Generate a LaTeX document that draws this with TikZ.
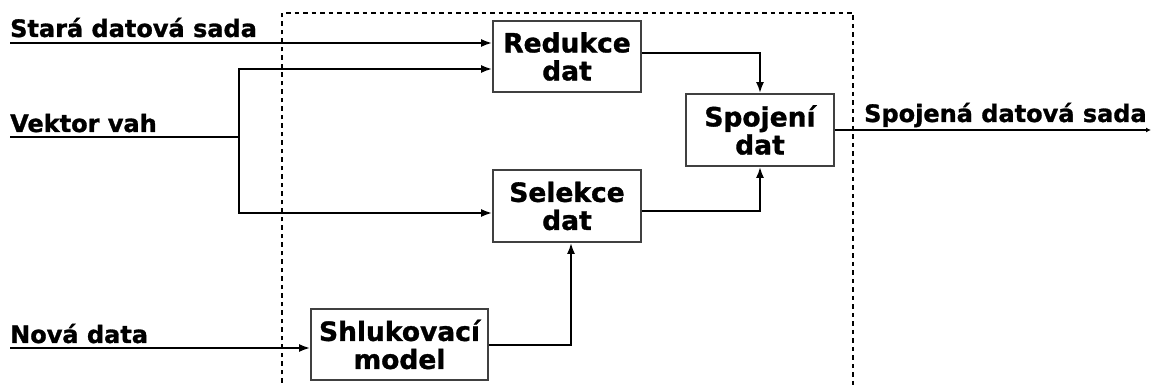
\documentclass[tikz,border=0pt]{standalone}
\usepackage{fontspec}
\setmainfont{DejaVu Sans}[BoldFeatures={FakeBold=1.2}]
\usetikzlibrary{arrows.meta}
\tikzset{
  blk/.style={draw=black!75, line width=1.8pt, align=center, inner sep=0pt,
    font=\fontsize{26.5}{28}\selectfont\bfseries},
  lbl/.style={anchor=base west, inner sep=0pt,
    font=\fontsize{24}{26}\selectfont\bfseries},
  wire/.style={line width=2pt},
  flow/.style={wire, -{Latex[length=11pt,width=8pt]}},
  frame/.style={line width=2.6pt, dash pattern=on 4.5pt off 4pt}
}
\begin{document}
\begin{tikzpicture}[x=1pt,y=-1pt]
\useasboundingbox (0,0) rectangle (1152,387);
% dashed system boundary, open at the bottom
\draw[frame] (282,400) -- (282,13) -- (853,13) -- (853,400);

% processing blocks
\node[blk, minimum width=148pt, minimum height=71pt] (red) at (567,56.5) {Redukce\\dat};
\node[blk, minimum width=148pt, minimum height=72pt] (spo) at (760,130) {Spojení\\dat};
\node[blk, minimum width=148pt, minimum height=72pt] (sel) at (567,206) {Selekce\\dat};
\node[blk, minimum width=177pt, minimum height=71pt] (shl) at (399.5,344.5) {Shlukovací\\model};

% input labels
\node[lbl] (lstara) at (10,37) {Stará datová sada};
\node[lbl] (lvektor) at (10,132) {Vektor vah};
\node[lbl] (lnova) at (10,343) {Nová data};
\node[lbl] (lspoj) at (864,122) {Spojená datová sada};

% wire end points
\coordinate (inS) at (10,43);
\coordinate (inV) at (10,137);
\coordinate (inN) at (10,348);
\coordinate (jV) at (239,137);
\coordinate (out) at (1151,130);

% inputs
\draw[flow] (inS) -- (inS -| red.west);
\draw[wire] (inV) -- (jV);
\draw[flow] (jV) |- (red.west |- 0,69);
\draw[flow] (jV) |- (sel.west |- 0,213);
\draw[flow] (inN) -- (inN -| shl.west);

% internal connections
\draw[flow] (red.east |- 0,53) -| (spo.north);
\draw[flow] (sel.east |- 0,211) -| (spo.south);
\draw[flow] (shl.east |- 0,345) -| (sel.south -| 571,0);

% output
\draw[wire, -{Latex[length=5pt,width=5pt]}] (spo.east) -- (out);
\end{tikzpicture}
\end{document}
